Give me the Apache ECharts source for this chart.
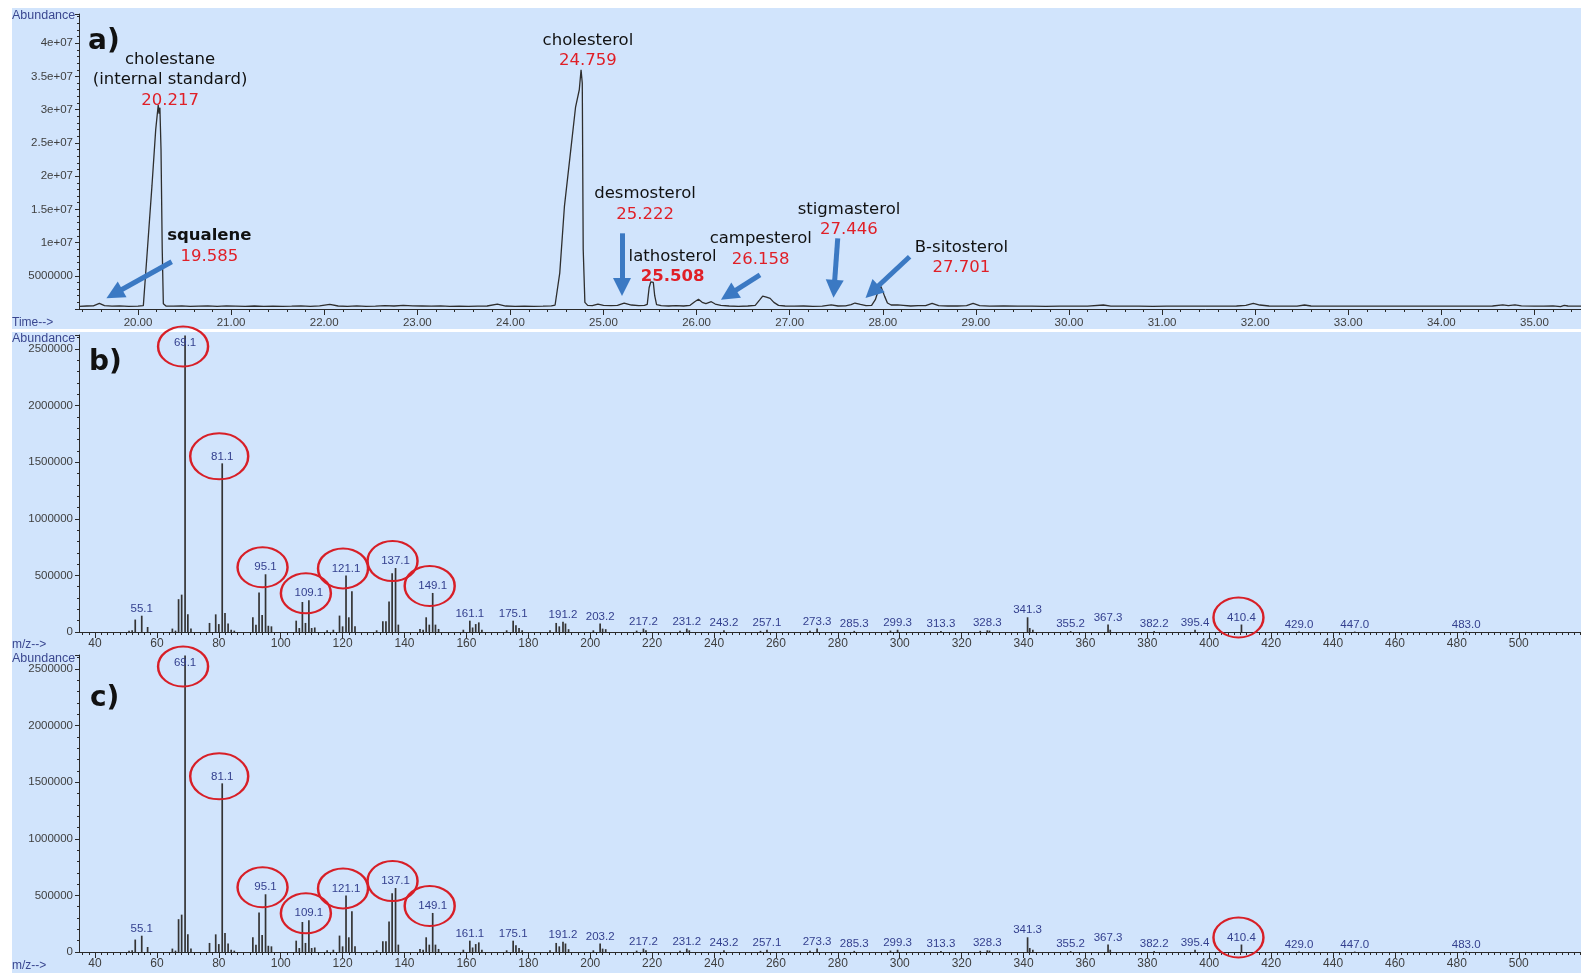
<!DOCTYPE html>
<html>
<head>
<meta charset="utf-8">
<title>Sterol GC-MS</title>
<style>
  html, body { margin: 0; padding: 0; background: #ffffff; }
  #chart { width: 1581px; height: 973px; }
</style>
<script src="https://cdn.jsdelivr.net/npm/echarts@6/dist/echarts.min.js"></script>
</head>
<body>
<div id="chart"></div>
<script>
// ---- a) total ion chromatogram: retention time (min) and abundance ----
const rtTime = [
  19.37, 19.45, 19.52, 19.585, 19.64, 19.72, 19.80, 19.90, 20.00, 20.057,
  20.10, 20.15, 20.19, 20.217, 20.226, 20.235, 20.247, 20.26, 20.272, 20.30,
  20.38, 20.47, 20.56, 20.65, 20.75, 20.85, 20.95, 21.05, 21.15, 21.25,
  21.35, 21.45, 21.55, 21.65, 21.75, 21.85, 21.95, 22.06, 22.15, 22.25,
  22.35, 22.45, 22.55, 22.65, 22.75, 22.85, 22.95, 23.05, 23.15, 23.25,
  23.35, 23.45, 23.55, 23.65, 23.75, 23.86, 23.95, 24.05, 24.15, 24.25,
  24.35, 24.44, 24.48, 24.53, 24.58, 24.64, 24.70, 24.74, 24.759, 24.772,
  24.782, 24.80, 24.83, 24.88, 24.94, 25.00, 25.08, 25.15, 25.222, 25.30,
  25.38, 25.44, 25.47, 25.49, 25.508, 25.52, 25.535, 25.55, 25.57, 25.62,
  25.70, 25.78, 25.86, 25.93, 25.98, 26.02, 26.06, 26.10, 26.158, 26.20,
  26.26, 26.35, 26.45, 26.55, 26.63, 26.68, 26.71, 26.75, 26.79, 26.83,
  26.88, 26.95, 27.05, 27.15, 27.25, 27.35, 27.446, 27.52, 27.60, 27.66,
  27.701, 27.76, 27.82, 27.88, 27.92, 27.95, 27.98, 28.00, 28.02, 28.05,
  28.09, 28.16, 28.22, 28.30, 28.38, 28.46, 28.53, 28.60, 28.70, 28.80,
  28.90, 28.97, 29.04, 29.15, 29.30, 29.45, 29.60, 29.75, 29.90, 30.05,
  30.20, 30.37, 30.45, 30.60, 30.75, 30.90, 31.05, 31.20, 31.35, 31.50,
  31.65, 31.80, 31.90, 31.98, 32.05, 32.15, 32.30, 32.45, 32.53, 32.60,
  32.75, 32.90, 33.05, 33.20, 33.35, 33.50, 33.65, 33.80, 33.95, 34.10,
  34.25, 34.40, 34.55, 34.66, 34.72, 34.79, 34.86, 35.00, 35.10, 35.20,
  35.28, 35.32, 35.36, 35.45, 35.50
];
const rtAbund = [
  400000, 450000, 480000, 850000, 520000, 420000, 470000, 400000, 430000, 500000,
  8800000, 18600000, 27000000, 30700000, 29400000, 30300000, 24000000, 9000000, 800000, 450000,
  420000, 470000, 400000, 440000, 480000, 410000, 460000, 420000, 380000, 450000,
  400000, 440000, 380000, 420000, 480000, 400000, 460000, 700000, 450000, 400000,
  460000, 400000, 440000, 520000, 450000, 560000, 480000, 450000, 420000, 460000,
  400000, 420000, 380000, 420000, 450000, 750000, 450000, 400000, 420000, 400000,
  430000, 460000, 600000, 5400000, 15400000, 22900000, 30400000, 33000000, 36000000, 34000000,
  9000000, 1000000, 550000, 500000, 750000, 550000, 500000, 560000, 900000, 600000,
  500000, 550000, 700000, 3200000, 4100000, 3900000, 4000000, 2000000, 650000, 500000,
  450000, 500000, 450000, 550000, 1100000, 1460000, 1000000, 800000, 1100000, 750000,
  550000, 450000, 400000, 450000, 550000, 1400000, 1950000, 1800000, 1600000, 1000000,
  550000, 450000, 420000, 450000, 400000, 430000, 620000, 450000, 480000, 650000,
  900000, 700000, 500000, 550000, 1400000, 2700000, 3400000, 3200000, 1900000, 900000,
  600000, 620000, 550000, 450000, 500000, 500000, 850000, 500000, 450000, 450000,
  500000, 850000, 500000, 420000, 450000, 420000, 440000, 400000, 430000, 420000,
  440000, 600000, 440000, 420000, 430000, 400000, 420000, 430000, 420000, 440000,
  430000, 450000, 550000, 850000, 600000, 450000, 430000, 440000, 600000, 450000,
  430000, 440000, 420000, 430000, 440000, 420000, 430000, 440000, 420000, 430000,
  440000, 430000, 450000, 620000, 520000, 620000, 460000, 440000, 430000, 460000,
  350000, 550000, 450000, 420000, 430000
];

// Compound call-outs: label text, where the label sits and the arrow ends (time, abundance)
const compoundNames = [['cholestane', '(internal standard)'], ['squalene'], ['cholesterol'], ['desmosterol'],
                       ['lathosterol'], ['campesterol'], ['stigmasterol'], ['B-sitosterol']];
const compoundRT = ['20.217', '19.585', '24.759', '25.222', '25.508', '26.158', '27.446', '27.701'];
const calloutAt = [[20.344, 34.47e6], [20.766, 9.48e6], [24.833, 38.91e6], [25.446, 15.80e6],
                   [25.742, 6.40e6], [26.689, 9.03e6], [27.637, 13.44e6], [28.845, 7.75e6]];
const arrowFrom = [null, [20.362, 7.12e6], null, [25.199, 11.39e6], null, [26.681, 5.12e6], [27.516, 10.64e6], [28.288, 7.87e6]];
const arrowTo   = [null, [19.745, 2.29e6], null, [25.199, 3.31e6],  null, [26.343, 2.11e6], [27.477, 3.04e6],  [27.885, 2.59e6]];

// ---- b) / c) mass spectra: m/z and abundance ----
const mzValues = [
  51, 52, 53, 55.1, 57, 65, 66, 67, 68, 69.1, 70, 71, 77, 79, 80, 81.1, 82, 83, 84, 85,
  91, 92, 93, 94, 95.1, 96, 97, 105, 106, 107, 108, 109.1, 110, 111, 115, 117, 119, 120,
  121.1, 122, 123, 124, 131, 133, 134, 135, 136, 137.1, 138, 145, 146, 147, 148, 149.1,
  150, 151, 159, 161.1, 162, 163, 164, 165, 173, 175.1, 176, 177, 178, 187, 189, 190,
  191.2, 192, 193, 201, 203.2, 204, 205, 215, 217.2, 218, 229, 231.2, 232, 243.2, 255,
  257.1, 271, 273.3, 285.3, 297, 299.3, 313.3, 326, 328.3, 329, 341.3, 342, 343, 355.2,
  367.3, 368, 382.2, 395.4, 410.4, 429.0, 447.0, 483.0
];
const mzAbund = [
  12000, 15000, 110000, 144000, 44000, 30000, 12000, 290000, 330000, 2620000, 156000, 30000, 80000, 156000, 70000, 1490000, 168000, 74000, 20000, 12000,
  130000, 65000, 350000, 150000, 510000, 55000, 50000, 100000, 35000, 265000, 80000, 280000, 35000, 40000, 15000, 20000, 145000, 50000,
  500000, 130000, 360000, 50000, 15000, 95000, 95000, 270000, 520000, 565000, 65000, 27000, 20000, 130000, 65000, 345000,
  65000, 27000, 20000, 100000, 40000, 70000, 85000, 20000, 15000, 100000, 60000, 35000, 15000, 15000, 80000, 50000,
  90000, 75000, 25000, 15000, 75000, 30000, 25000, 12000, 30000, 15000, 12000, 30000, 15000, 15000, 10000,
  20000, 12000, 30000, 10000, 12000, 20000, 8000, 10000, 15000, 12000, 130000, 35000, 20000, 8000,
  66000, 20000, 8000, 20000, 66000, 4000, 4000, 4000
];
// Peaks carrying an m/z label, and the ones ringed in red
const mzLabelled = [55.1, 69.1, 81.1, 95.1, 109.1, 121.1, 137.1, 149.1, 161.1, 175.1, 191.2, 203.2, 217.2,
                    231.2, 243.2, 257.1, 273.3, 285.3, 299.3, 313.3, 328.3, 341.3, 355.2, 367.3, 382.2,
                    395.4, 410.4, 429.0, 447.0, 483.0];
const mzCircled = [69.1, 81.1, 95.1, 109.1, 121.1, 137.1, 149.1, 410.4];

// ---- axis ticks ----
const timeTicks = [20, 21, 22, 23, 24, 25, 26, 27, 28, 29, 30, 31, 32, 33, 34, 35];
const mzTicks = [40, 60, 80, 100, 120, 140, 160, 180, 200, 220, 240, 260, 280, 300, 320, 340, 360,
                 380, 400, 420, 440, 460, 480, 500];
const timeMinor = [];
for (let k = 97; k <= 177; k++) timeMinor.push(k / 5);
const mzMinor = [];
for (let k = 18; k <= 260; k++) mzMinor.push(k * 2);

// ---- styling ----
const AXIS_COLOR = '#2a2a2a';
const TICK_LABEL = '#3e3e3e';
const TICK_FONT = "'Liberation Sans', Arial, sans-serif";
const NOTE_FONT = "'DejaVu Sans', Verdana, sans-serif";
const TAG_BLUE = '#333f8e';
const RING_RED = '#d81f27';
const ARROW_BLUE = '#3b79c3';
const TIME_RANGE = [19.366, 35.5];
const MZ_RANGE = [34.83, 520.1];
const TIC_MAX = 44.4e6;
const SPEC_MAX = 2624000;

function sci(v) {
  if (v === 5e6) return '5000000';
  return v.toExponential().replace(/e\+(\d)$/, 'e+0$1');
}

function majorX(grid, range, ticks, fmt, size, margin) {
  return {
    type: 'value', gridIndex: grid, min: range[0], max: range[1], position: 'bottom',
    axisLine: { show: true, onZero: false, lineStyle: { color: AXIS_COLOR, width: 1 } },
    axisTick: { show: true, customValues: ticks, length: 6, lineStyle: { color: AXIS_COLOR } },
    axisLabel: { show: true, customValues: ticks, formatter: fmt, color: TICK_LABEL,
                 fontFamily: TICK_FONT, fontSize: size, margin: margin },
    splitLine: { show: false }
  };
}
function minorX(grid, range, ticks) {
  return {
    type: 'value', gridIndex: grid, min: range[0], max: range[1], position: 'bottom',
    axisLine: { show: false },
    axisTick: { show: true, customValues: ticks, length: 3, lineStyle: { color: AXIS_COLOR } },
    axisLabel: { show: false }, splitLine: { show: false }
  };
}
function valueY(grid, max, interval, fmt, showZero) {
  return {
    type: 'value', gridIndex: grid, min: 0, max: max, interval: interval, position: 'left',
    axisLine: { show: true, onZero: false, lineStyle: { color: AXIS_COLOR, width: 1 } },
    axisTick: { show: true, length: 4, lineStyle: { color: AXIS_COLOR } },
    minorTick: { show: true, splitNumber: 5, length: 2, lineStyle: { color: AXIS_COLOR } },
    axisLabel: { formatter: fmt, showMinLabel: showZero, showMaxLabel: false, color: TICK_LABEL,
                 fontFamily: TICK_FONT, fontSize: 11.5, margin: 6 },
    splitLine: { show: false }, minorSplitLine: { show: false }
  };
}

// chromatogram points and call-outs
const ticLine = rtTime.map((t, i) => [t, rtAbund[i]]);
const calloutData = compoundNames.map((names, i) => {
  const nameStyle = i === 1 ? 'nb' : 'n';
  const rtStyle = i === 4 ? 'tb' : 't';
  const txt = names.map(s => '{' + nameStyle + '|' + s + '}').join('\n') + '\n{' + rtStyle + '|' + compoundRT[i] + '}';
  return { value: calloutAt[i], label: { formatter: txt } };
});
const arrowData = [];
arrowFrom.forEach((a, i) => {
  if (a) arrowData.push([{ coord: a }, { coord: arrowTo[i] }]);
});

// spectrum bars, labels and rings
const specBars = mzValues.map((mz, i) => {
  const item = { value: [mz, mzAbund[i]] };
  if (mzLabelled.indexOf(mz) >= 0) {
    item.label = mzAbund[i] >= SPEC_MAX * 0.98
      ? { show: true, position: 'insideTop', distance: 1 }
      : { show: true };
  }
  return item;
});
const ringData = mzCircled.map(mz => {
  const v = mzAbund[mzValues.indexOf(mz)];
  const clipped = v >= SPEC_MAX * 0.98;
  return {
    value: [mz, v],
    symbolOffset: clipped ? [-2, 11] : [-3, -7],
    symbolSize: mz === 81.1 ? [58, 46] : [50, 40]
  };
});
const RING_PATH = 'path://M0 20A25 20 0 1 1 50 20A25 20 0 1 1 0 20Z';

function specSeries(xi, yi) {
  return [{
    type: 'bar', xAxisIndex: xi, yAxisIndex: yi, data: specBars, barWidth: 1.7,
    silent: true, itemStyle: { color: '#343434', opacity: 1 },
    label: { show: false, position: 'top', distance: 1, color: TAG_BLUE, fontFamily: TICK_FONT,
             fontSize: 11.5, formatter: p => p.value[0].toFixed(1) },
    z: 3
  }, {
    type: 'scatter', xAxisIndex: xi, yAxisIndex: yi, data: ringData, symbol: RING_PATH,
    silent: true, itemStyle: { color: 'rgba(0,0,0,0)', borderColor: RING_RED, borderWidth: 2.2, opacity: 1 },
    z: 5
  }];
}

function txt(x, y, text, font, color, align) {
  return { type: 'text', x: x, y: y, z: 10, silent: true,
           style: { text: text, font: font, fill: color, align: align || 'left', verticalAlign: 'middle' } };
}

const chart = echarts.init(document.getElementById('chart'), null, { renderer: 'canvas' });
chart.setOption({
  animation: false,
  backgroundColor: '#d1e4fc',
  grid: [
    { left: 79, right: 0, top: 14, height: 295 },
    { left: 79, right: 0, top: 335, height: 297 },
    { left: 79, right: 0, top: 655, height: 297 }
  ],
  xAxis: [
    majorX(0, TIME_RANGE, timeTicks, v => v.toFixed(2), 11.5, 8),
    minorX(0, TIME_RANGE, timeMinor),
    majorX(1, MZ_RANGE, mzTicks, v => String(v), 12, 6),
    minorX(1, MZ_RANGE, mzMinor),
    majorX(2, MZ_RANGE, mzTicks, v => String(v), 12, 6),
    minorX(2, MZ_RANGE, mzMinor)
  ],
  yAxis: [
    valueY(0, TIC_MAX, 5e6, sci, false),
    valueY(1, SPEC_MAX, 500000, v => String(v), true),
    valueY(2, SPEC_MAX, 500000, v => String(v), true)
  ],
  graphic: [
    { type: 'rect', z: -10, silent: true, shape: { x: 0, y: 0, width: 1581, height: 8 }, style: { fill: '#ffffff' } },
    { type: 'rect', z: -10, silent: true, shape: { x: 0, y: 0, width: 12, height: 973 }, style: { fill: '#ffffff' } },
    { type: 'rect', z: -10, silent: true, shape: { x: 12, y: 329, width: 1569, height: 3 }, style: { fill: '#ffffff' } },
    txt(12, 15.5, 'Abundance', "12.5px 'Liberation Sans', Arial, sans-serif", '#3a4790'),
    txt(12, 323, 'Time-->', "12px 'Liberation Sans', Arial, sans-serif", '#3a4790'),
    txt(12, 338.5, 'Abundance', "12.5px 'Liberation Sans', Arial, sans-serif", '#3a4790'),
    txt(12, 645, 'm/z-->', "12px 'Liberation Sans', Arial, sans-serif", '#3a4790'),
    txt(12, 658.5, 'Abundance', "12.5px 'Liberation Sans', Arial, sans-serif", '#3a4790'),
    txt(12, 966, 'm/z-->', "12px 'Liberation Sans', Arial, sans-serif", '#3a4790'),
    txt(88, 42, 'a)', "bold 28px 'DejaVu Sans', Verdana, sans-serif", '#111111'),
    txt(89, 363, 'b)', "bold 28px 'DejaVu Sans', Verdana, sans-serif", '#111111'),
    txt(90, 699, 'c)', "bold 28px 'DejaVu Sans', Verdana, sans-serif", '#111111')
  ],
  series: [
    {
      type: 'line', xAxisIndex: 0, yAxisIndex: 0, data: ticLine, showSymbol: false, silent: true,
      lineStyle: { color: '#2e2e2e', width: 1.3 }, z: 3,
      markLine: {
        silent: true, symbol: ['none', 'triangle'], symbolSize: 18, animation: false,
        lineStyle: { color: ARROW_BLUE, width: 5, type: 'solid', opacity: 1 },
        itemStyle: { color: ARROW_BLUE },
        label: { show: false }, emphasis: { disabled: true },
        data: arrowData
      }
    },
    {
      type: 'scatter', xAxisIndex: 0, yAxisIndex: 0, data: calloutData, symbolSize: 1, silent: true,
      itemStyle: { color: 'rgba(0,0,0,0)', opacity: 1 }, z: 6,
      label: {
        show: true, position: 'inside', align: 'center', verticalAlign: 'middle',
        rich: {
          n:  { fontFamily: NOTE_FONT, fontSize: 16.5, color: '#111111', lineHeight: 20.5, align: 'center' },
          nb: { fontFamily: NOTE_FONT, fontSize: 16.5, fontWeight: 'bold', color: '#111111', lineHeight: 20.5, align: 'center' },
          t:  { fontFamily: NOTE_FONT, fontSize: 16.5, color: '#e01f27', lineHeight: 20.5, align: 'center' },
          tb: { fontFamily: NOTE_FONT, fontSize: 16.5, fontWeight: 'bold', color: '#e01f27', lineHeight: 20.5, align: 'center' }
        }
      }
    }
  ].concat(specSeries(2, 1), specSeries(4, 2))
});
</script>
</body>
</html>
